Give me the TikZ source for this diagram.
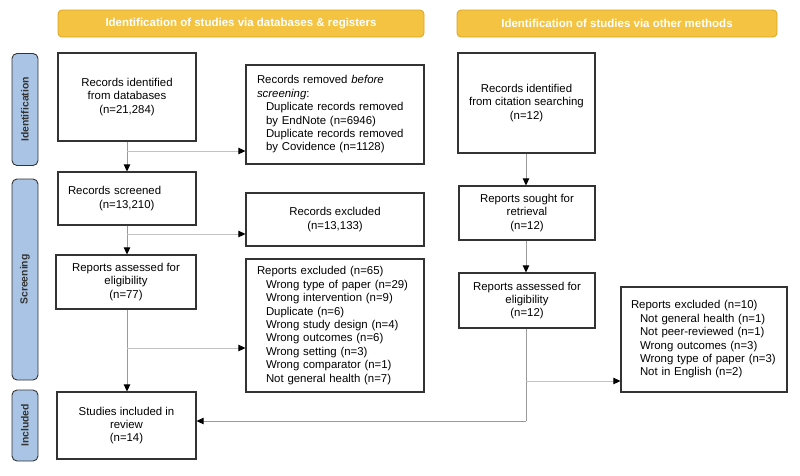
\documentclass[tikz,border=0pt]{standalone}
\usepackage{fontspec}
\setmainfont{Liberation Sans}
\usetikzlibrary{arrows.meta}
\definecolor{bannerfill}{HTML}{F4C342}
\definecolor{bannerdraw}{HTML}{D9A520}
\definecolor{sidefill}{HTML}{A9C4E4}
\definecolor{boxc}{HTML}{333333}
\definecolor{linec}{HTML}{9A9A9A}
\newcommand{\bxfont}{\fontsize{11.4}{13.4}\selectfont}
\tikzset{
  box/.style={draw=boxc, line width=1.2pt, fill=white, inner sep=0pt, font=\bxfont, align=center},
  lbox/.style={box, align=left, inner xsep=11pt},
  banner/.style={draw=bannerdraw, line width=0.8pt, fill=bannerfill, rounded corners=4pt, text=white,
    font=\fontsize{11.5}{13}\selectfont\bfseries, inner sep=0pt, minimum height=27pt},
  side/.style={draw=boxc, line width=0.9pt, fill=sidefill, rounded corners=5pt, rotate=90,
    font=\fontsize{10.4}{12}\selectfont\bfseries, text=boxc, inner sep=0pt, minimum height=26pt},
  conn/.style={draw=linec, line width=0.9pt, -{Triangle[length=7pt,width=6.5pt,color=black]}},
  brline/.style={draw=linec!60, line width=0.9pt, -{Triangle[length=7pt,width=6.5pt,color=black]}},
  plain/.style={draw=linec, line width=0.9pt}
}
\begin{document}
\begin{tikzpicture}[x=1pt,y=-1pt]
\useasboundingbox (0,0) rectangle (800,475);
% banners
\node[banner, minimum width=366pt] (b1) at (241,23.5) {Identification of studies via databases \& registers};
\node[banner, minimum width=320pt] (b2) at (617,23.5) {Identification of studies via other methods};
% side labels
\node[side, minimum width=112pt] (s1) at (25,109.5) {Identification};
\node[side, minimum width=201pt] (s2) at (25,279.5) {Screening};
\node[side, minimum width=71pt] (s3) at (25,425.5) {Included};
% left column
\node[box, minimum width=138pt, minimum height=88pt] (db) at (127,97) {Records identified\\from databases\\(n=21,284)};
\node[lbox, inner xsep=10pt, text width=118pt, minimum width=138pt, minimum height=53pt] (scr) at (127,198.5) {Records screened\\\hspace*{31pt}(n=13,210)};
\node[box, minimum width=140pt, minimum height=54pt] (rae) at (126,282) {Reports assessed for\\eligibility\\(n=77)};
\node[box, minimum width=139pt, minimum height=67pt] (inc) at (126.5,425.5) {Studies included in\\review\\(n=14)};
% middle column
\node[lbox, minimum width=178pt, text width=156pt, minimum height=99pt] (rem) at (335,114.5) {Records removed \textit{before}\\\textit{screening}:\\\hspace*{9pt}Duplicate records removed\\\hspace*{9pt}by EndNote (n=6946)\\\hspace*{9pt}Duplicate records removed\\\hspace*{9pt}by Covidence (n=1128)\\[-6pt]};
\node[box, minimum width=178pt, minimum height=53pt] (rex) at (335,219.5) {Records excluded\\(n=13,133)};
\node[lbox, minimum width=178pt, text width=156pt, minimum height=133pt] (rx65) at (335,325.5) {Reports excluded (n=65)\\\hspace*{9pt}Wrong type of paper (n=29)\\\hspace*{9pt}Wrong intervention (n=9)\\\hspace*{9pt}Duplicate (n=6)\\\hspace*{9pt}Wrong study design (n=4)\\\hspace*{9pt}Wrong outcomes (n=6)\\\hspace*{9pt}Wrong setting (n=3)\\\hspace*{9pt}Wrong comparator (n=1)\\\hspace*{9pt}Not general health (n=7)\\[-4pt]};
% right column
\node[box, minimum width=137pt, minimum height=100pt] (cit) at (526.5,103) {Records identified\\from citation searching\\(n=12)};
\node[box, minimum width=136pt, minimum height=54pt] (sou) at (527,213) {Reports sought for\\retrieval\\(n=12)};
\node[box, minimum width=136pt, minimum height=55pt] (rar) at (527,300.5) {Reports assessed for\\eligibility\\(n=12)};
\node[lbox, inner xsep=10pt, minimum width=166pt, text width=146pt, minimum height=105pt] (rx10) at (704,339.5) {Reports excluded (n=10)\\\hspace*{9pt}Not general health (n=1)\\\hspace*{9pt}Not peer-reviewed (n=1)\\\hspace*{9pt}Wrong outcomes (n=3)\\\hspace*{9pt}Wrong type of paper (n=3)\\\hspace*{9pt}Not in English (n=2)};
% branch coordinates
\coordinate (c1) at (127,151);
\coordinate (c2) at (127,234);
\coordinate (c3) at (127,348);
\coordinate (c4) at (526,381);
\coordinate (c5) at (526,421);
% connectors
\draw[conn] (db.south) -- (scr.north -| db.south);
\draw[brline] (c1) -- (c1 -| rem.west);
\draw[conn] (scr.south) -- (rae.north -| scr.south);
\draw[brline] (c2) -- (c2 -| rex.west);
\draw[conn] (rae.south -| scr.south) -- (inc.north -| scr.south);
\draw[brline] (c3) -- (c3 -| rx65.west);
\draw[conn] (cit.south -| c4) -- (sou.north -| c4);
\draw[conn] (sou.south -| c4) -- (rar.north -| c4);
\draw[plain] (rar.south -| c4) -- (c5);
\draw[conn] (c5) -- (c5 -| inc.east);
\draw[brline] (c4) -- (c4 -| rx10.west);
\end{tikzpicture}
\end{document}
